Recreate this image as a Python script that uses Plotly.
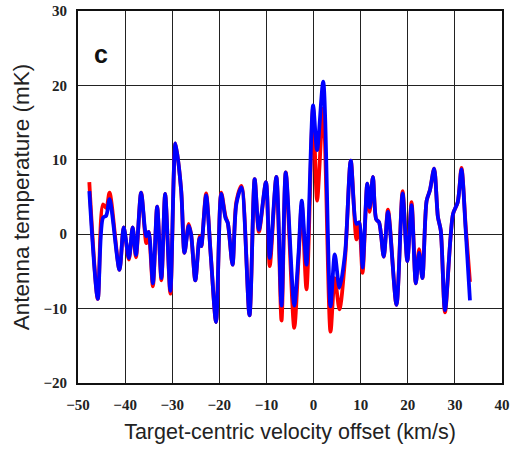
import plotly.graph_objects as go

velocity = [-47.6, -45.8, -44.7, -44.0, -43.3, -41.2, -40.3, -39.2, -38.4, -37.7,
            -36.6, -35.5, -35.0, -34.1, -33.2, -32.3, -31.5, -30.4, -29.3, -28.1,
            -27.4, -26.5, -26.0, -25.1, -24.2, -23.8, -23.6, -22.8, -21.8, -20.7,
            -19.6, -18.7, -18.2, -17.2, -16.4, -15.3, -13.6, -12.5, -11.6, -10.1,
            -9.3, -7.9, -6.8, -5.9, -4.1, -3.2, -2.5, -1.5, -0.1, 0.75,
            2.05, 3.6, 4.5, 5.5, 6.7, 7.9, 9.1, 9.7, 10.4, 11.4,
            11.9, 12.6, 13.3, 13.9, 14.9, 15.8, 17.6, 18.9, 19.9, 20.8,
            21.7, 22.4, 23.1, 24.0, 24.7, 25.6, 26.4, 27.0, 27.9, 29.6,
            30.6, 31.4, 32.3, 33.2]

temp_blue = [5.8, -8.7, 2.2, 2.5, 4.7, -4.8, 0.9, -3.2, 0.9, -2.8,
             5.6, -0.3, 0.3, -6.6, 3.7, -5.9, 5.4, -7.6, 12.2, 5.9,
             -2.5, 1.1, 0.0, -6.2, -0.5, -1.6, -0.5, 5.2, -3.0, -11.8,
             5.4, 2.2, 1.5, -4.1, 4.0, 6.3, -10.9, 7.4, 0.6, 7.0,
             -3.2, 7.7, -9.6, 8.3, -9.6, -2.7, 4.5, -4.1, 17.3, 11.3,
             20.5, -9.7, -2.7, -7.2, -2.5, 9.9, 1.4, 1.6, -4.5, 6.8,
             3.6, 7.7, 2.0, 1.6, -3.0, 3.0, -9.5, 5.5, -3.6, 3.9,
             -6.6, -2.5, -5.9, 4.5, 5.9, 8.8, 2.3, 0.5, -10.2, 2.7,
             4.3, 8.7, 0.5, -8.9]

temp_red = [7.0, -8.7, 4.0, 3.5, 5.6, -4.8, 0.9, -3.4, 0.9, -3.1,
            5.6, -1.2, 0.3, -7.0, 3.7, -6.2, 5.4, -8.0, 12.2, 5.9,
            -2.5, 1.4, 0.0, -6.2, -0.3, -1.6, -0.5, 5.5, -3.0, -11.8,
            5.6, 2.4, 1.5, -4.1, 4.3, 6.5, -10.9, 7.4, 0.3, 7.0,
            -4.3, 7.7, -11.6, 8.3, -12.6, -3.5, 4.0, -7.4, 17.0, 4.5,
            16.9, -13.1, -5.9, -10.1, -3.2, 9.9, -0.7, 1.6, -5.2, 6.8,
            3.0, 7.7, 2.0, 1.6, -3.0, 3.3, -9.5, 5.8, -3.6, 4.3,
            -6.6, -2.0, -5.9, 4.5, 5.9, 8.8, 2.3, 0.5, -10.5, 2.7,
            4.3, 8.9, 1.0, -6.4]

x_ticks = [-50, -40, -30, -20, -10, 0, 10, 20, 30, 40]
y_ticks = [-20, -10, 0, 10, 20, 30]

fig = go.Figure()
fig.add_trace(go.Scatter(x=velocity, y=temp_red, mode="lines",
                         line=dict(color="#ff0000", width=3.8, shape="spline", smoothing=0.8),
                         showlegend=False))
fig.add_trace(go.Scatter(x=velocity, y=temp_blue, mode="lines",
                         line=dict(color="#0000ff", width=3.8, shape="spline", smoothing=0.8),
                         showlegend=False))

tick_font = dict(family="Liberation Serif", size=15, color="#222222", weight="bold")
fig.update_xaxes(range=[-50, 40], tickvals=x_ticks, showgrid=True, gridcolor="#222222",
                 gridwidth=1, zeroline=False, showline=True, linecolor="#111111",
                 linewidth=2, mirror=True, ticks="", tickfont=tick_font,
                 ticklabelstandoff=7, automargin=False,
                 title=dict(text="Target-centric velocity offset (km/s)",
                            font=dict(family="Liberation Sans", size=21.5, color="#222222"),
                            standoff=12))
fig.update_yaxes(range=[-20, 30], tickvals=y_ticks, showgrid=True, gridcolor="#222222",
                 gridwidth=1, zeroline=False, showline=True, linecolor="#111111",
                 linewidth=2, mirror=True, ticks="", tickfont=tick_font,
                 ticklabelstandoff=6, automargin=False,
                 title=dict(text="Antenna temperature (mK)",
                            font=dict(family="Liberation Sans", size=22.5, color="#222222"),
                            standoff=8))

fig.add_annotation(x=0.034, y=0.927, xref="paper", yref="paper", text="<b>c</b>",
                   showarrow=False, font=dict(family="Liberation Sans", size=25, color="#111111"))

fig.update_layout(width=518, height=454, margin=dict(l=78, r=16, t=11, b=71),
                  plot_bgcolor="white", paper_bgcolor="white")

fig.write_html("out.html", config={"displayModeBar": False},
               post_script="document.body.style.margin='0';")
